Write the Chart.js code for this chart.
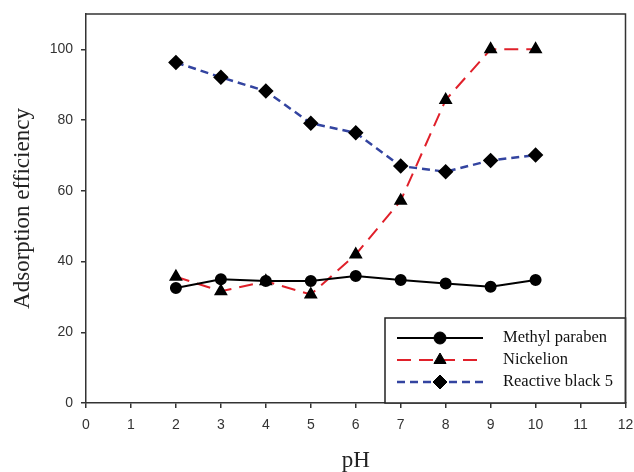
<!DOCTYPE html>
<html>
<head>
<meta charset="utf-8">
<script src="https://cdn.jsdelivr.net/npm/chart.js@4.4.1/dist/chart.umd.min.js"></script>
<style>
html,body{margin:0;padding:0;background:#fff;}
#wrap{width:634px;height:472px;position:relative;}
</style>
</head>
<body>
<div id="wrap"><canvas id="c" width="634" height="472"></canvas></div>
<script>
const pH = [2, 3, 4, 5, 6, 7, 8, 9, 10];
const methylParaben = [32.5, 35.0, 34.5, 34.5, 35.9, 34.8, 33.8, 32.9, 34.8];
const nickelion = [35.7, 31.6, 34.4, 30.7, 42.0, 57.2, 85.7, 100.0, 100.0];
const reactiveBlack5 = [96.3, 92.1, 88.2, 79.1, 76.4, 67.0, 65.4, 68.6, 70.1];
const seriesNames = ['Methyl paraben', 'Nickelion', 'Reactive black 5'];
const xTitle = 'pH';
const yTitle = 'Adsorption efficiency';

const pts = arr => arr.map((v, i) => ({x: pH[i], y: v}));

const legendPlugin = {
  id: 'boxLegend',
  afterDatasetsDraw(chart) {
    const ctx = chart.ctx;
    const a = chart.chartArea;
    const x0 = 385, y0 = 318, x1 = a.right, y1 = a.bottom;
    ctx.save();
    ctx.fillStyle = '#fff';
    ctx.fillRect(x0, y0, x1 - x0, y1 - y0);
    ctx.strokeStyle = '#222';
    ctx.lineWidth = 1.5;
    ctx.strokeRect(x0, y0, x1 - x0, y1 - y0);
    const rows = [338, 360, 382];
    chart.data.datasets.forEach((ds, i) => {
      const y = rows[i];
      ctx.beginPath();
      ctx.setLineDash(ds.borderDash || []);
      ctx.strokeStyle = ds.borderColor;
      ctx.lineWidth = ds.borderWidth;
      ctx.moveTo(397, y);
      ctx.lineTo(483, y);
      ctx.stroke();
      ctx.setLineDash([]);
      ctx.fillStyle = '#000';
      ctx.strokeStyle = '#000';
      ctx.lineWidth = 1;
      Chart.helpers.drawPoint(ctx, {pointStyle: ds.pointStyle, radius: ds.pointRadius + 1, borderWidth: 1}, 440, y);
      ctx.fillStyle = '#111';
      ctx.font = '16.5px "Liberation Serif", serif';
      ctx.textBaseline = 'middle';
      ctx.textAlign = 'left';
      ctx.fillText(ds.label, 503, y);
    });
    ctx.restore();
  }
};

const framePlugin = {
  id: 'frame',
  afterDraw(chart) {
    const a = chart.chartArea, ctx = chart.ctx;
    ctx.save();
    ctx.strokeStyle = '#333';
    ctx.lineWidth = 1.5;
    ctx.beginPath();
    ctx.moveTo(a.left, a.top);
    ctx.lineTo(a.right, a.top);
    ctx.lineTo(a.right, a.bottom);
    ctx.stroke();
    ctx.restore();
  }
};

new Chart(document.getElementById('c'), {
  type: 'line',
  data: {
    datasets: [
      {label: seriesNames[0], data: pts(methylParaben), borderColor: '#000', borderWidth: 2,
       pointStyle: 'circle', pointRadius: 5, pointBackgroundColor: '#000', pointBorderColor: '#000', tension: 0},
      {label: seriesNames[1], data: pts(nickelion), borderColor: '#e0202a', borderWidth: 2, borderDash: [14, 8],
       pointStyle: 'triangle', pointRadius: 6, pointBackgroundColor: '#000', pointBorderColor: '#000', tension: 0},
      {label: seriesNames[2], data: pts(reactiveBlack5), borderColor: '#3344a0', borderWidth: 2.5, borderDash: [8, 5],
       pointStyle: 'rectRot', pointRadius: 6, pointBackgroundColor: '#000', pointBorderColor: '#000', tension: 0}
    ]
  },
  options: {
    responsive: false,
    animation: false,
    layout: {padding: {top: 14, right: 8, left: 0, bottom: 0}},
    plugins: {legend: {display: false}, tooltip: {enabled: false}},
    scales: {
      x: {
        type: 'linear', min: 0, max: 12,
        ticks: {stepSize: 1, color: '#333', font: {family: '"Liberation Sans", Arial, sans-serif', size: 14}, padding: 9, maxRotation: 0},
        grid: {drawOnChartArea: false, drawTicks: true, tickLength: 5, color: '#333', lineWidth: 1.5},
        border: {display: true, color: '#333', width: 1.5},
        title: {display: true, text: xTitle, color: '#222', font: {family: '"Liberation Serif", serif', size: 23, lineHeight: 1}, padding: {top: 0, bottom: 0}},
        afterFit: s => { s.height = 69; s.paddingLeft = 0; s.paddingRight = 0; }
      },
      y: {
        min: 0, max: 110,
        afterBuildTicks: s => { s.ticks = s.ticks.filter(t => t.value <= 100 && t.value % 20 === 0); },
        ticks: {stepSize: 20, color: '#333', font: {family: '"Liberation Sans", Arial, sans-serif', size: 14}, padding: 8},
        grid: {drawOnChartArea: false, drawTicks: true, tickLength: 5, color: '#333', lineWidth: 1.5},
        border: {display: true, color: '#333', width: 1.5},
        title: {display: true, text: yTitle, color: '#222', font: {family: '"Liberation Serif", serif', size: 23, lineHeight: 1}, padding: {top: 11, bottom: 0}},
        afterFit: s => { s.width = 86; s.paddingTop = 0; s.paddingBottom = 0; }
      }
    }
  },
  plugins: [legendPlugin, framePlugin]
});
</script>
</body>
</html>
